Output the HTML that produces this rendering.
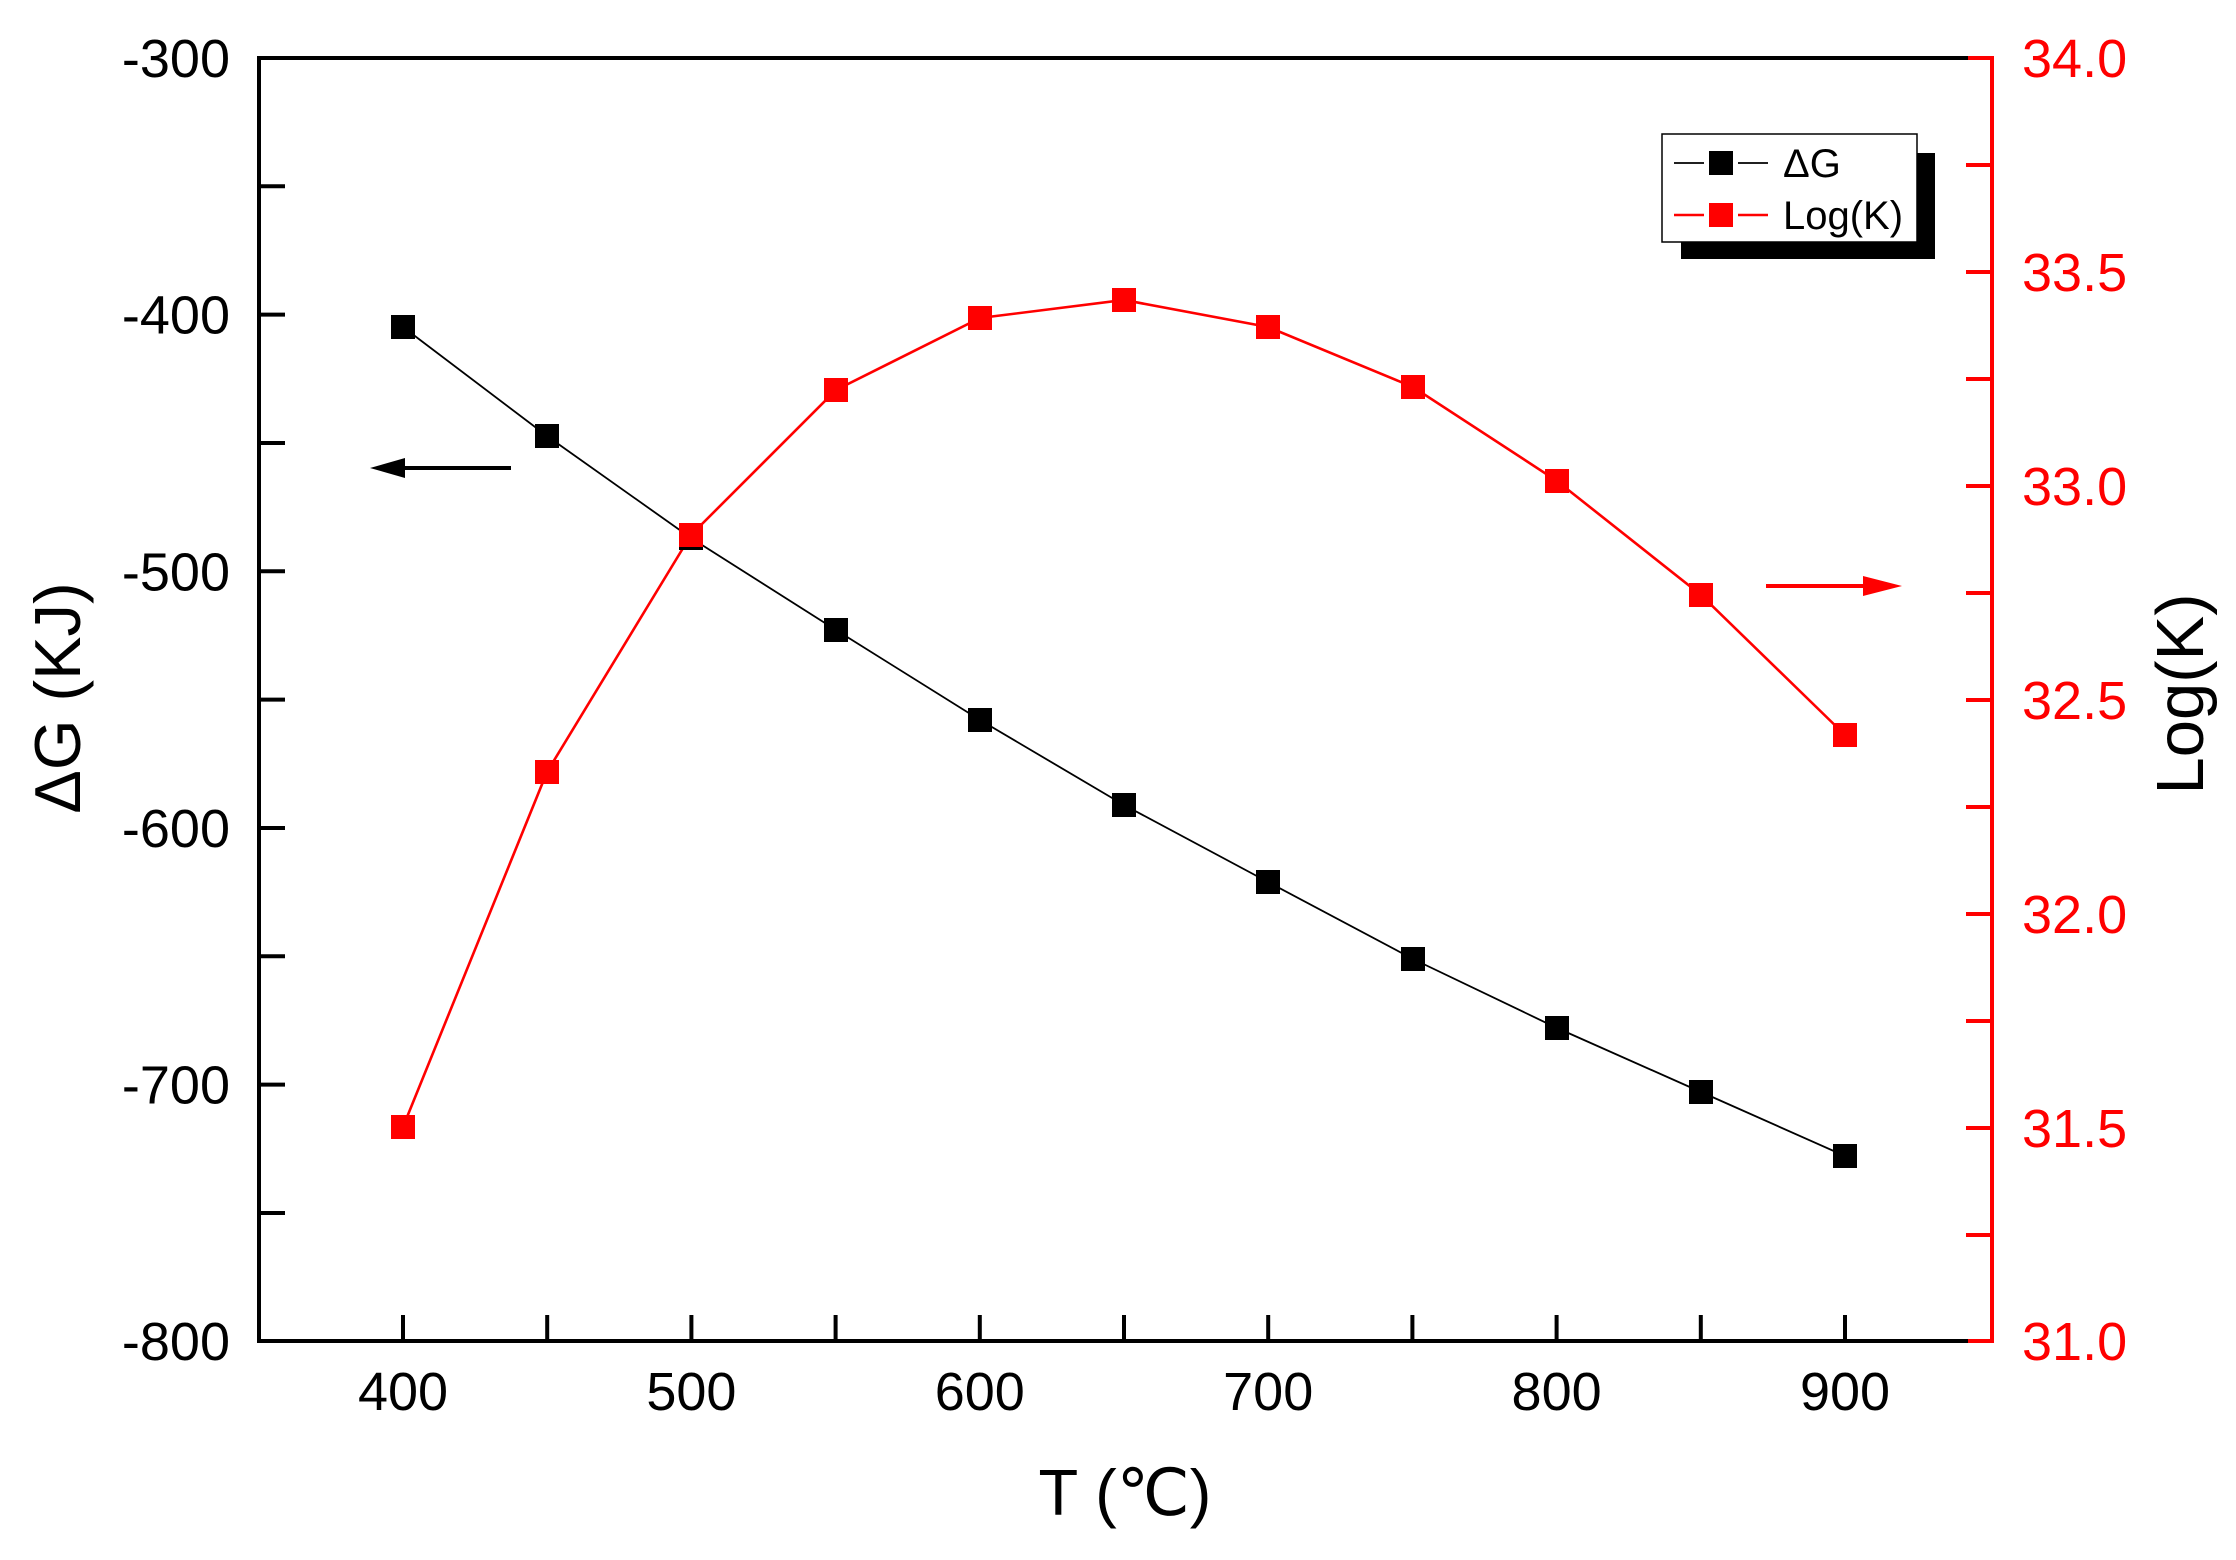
<!DOCTYPE html>
<html><head><meta charset="utf-8"><style>
html,body{margin:0;padding:0;background:#fff;}
svg{display:block;}
text{font-family:"Liberation Sans","DejaVu Sans",sans-serif;}
</style></head><body>
<svg width="2236" height="1560" viewBox="0 0 2236 1560" xmlns="http://www.w3.org/2000/svg">
<rect width="2236" height="1560" fill="#fff"/>
<g stroke="#000" stroke-width="4" fill="none">
<line x1="259" y1="58" x2="1972" y2="58"/>
<line x1="259" y1="1341" x2="1972" y2="1341"/>
<line x1="259" y1="56" x2="259" y2="1343"/>
<path d="M259 58h26M259 186.3h26M259 314.6h26M259 443h26M259 571.3h26M259 699.6h26M259 828h26M259 956.3h26M259 1084.6h26M259 1213h26"/>
<path d="M403 1341v-26M547.2 1341v-26M691.4 1341v-26M835.6 1341v-26M979.8 1341v-26M1124 1341v-26M1268.2 1341v-26M1412.4 1341v-26M1556.6 1341v-26M1700.8 1341v-26M1845 1341v-26"/>
</g>
<g stroke="#f00" stroke-width="4" fill="none">
<line x1="1968" y1="58" x2="1994" y2="58"/>
<line x1="1968" y1="1341" x2="1994" y2="1341"/>
<line x1="1992" y1="56" x2="1992" y2="1343"/>
<path d="M1992 165h-26M1992 272h-26M1992 379h-26M1992 486h-26M1992 593h-26M1992 700h-26M1992 807h-26M1992 914h-26M1992 1021h-26M1992 1128h-26M1992 1235h-26"/>
</g>
<g font-size="54" text-anchor="end" fill="#000">
<text x="230" y="77">-300</text>
<text x="230" y="333.6">-400</text>
<text x="230" y="590.3">-500</text>
<text x="230" y="847">-600</text>
<text x="230" y="1103.6">-700</text>
<text x="230" y="1360">-800</text>
</g>
<g font-size="54" text-anchor="middle" fill="#000">
<text x="403" y="1410">400</text>
<text x="691.4" y="1410">500</text>
<text x="979.8" y="1410">600</text>
<text x="1268.2" y="1410">700</text>
<text x="1556.6" y="1410">800</text>
<text x="1845" y="1410">900</text>
</g>
<g font-size="54" fill="#f00">
<text x="2022" y="77">34.0</text>
<text x="2022" y="291">33.5</text>
<text x="2022" y="505">33.0</text>
<text x="2022" y="719">32.5</text>
<text x="2022" y="933">32.0</text>
<text x="2022" y="1147">31.5</text>
<text x="2022" y="1360">31.0</text>
</g>
<text x="1125" y="1515" font-size="65" text-anchor="middle">T (℃)</text>
<text transform="translate(80,698) rotate(-90)" font-size="65" text-anchor="middle">ΔG (KJ)</text>
<text transform="translate(2203,694) rotate(-90)" font-size="67" text-anchor="middle">Log(K)</text>
<polyline fill="none" stroke="#000" stroke-width="1.8" points="403,327 547,436 691,538 836,630 980,720 1124,805 1268,882 1413,959 1557,1028 1701,1092 1845,1156"/>
<polyline fill="none" stroke="#f00" stroke-width="2.6" points="403,1127 547,772 691,535 836,390 980,318 1124,300 1268,327 1413,387 1557,481 1701,595 1845,735"/>
<g fill="#000">
<rect x="391" y="315" width="24" height="24"/><rect x="535" y="424" width="24" height="24"/><rect x="679" y="526" width="24" height="24"/><rect x="824" y="618" width="24" height="24"/><rect x="968" y="708" width="24" height="24"/><rect x="1112" y="793" width="24" height="24"/><rect x="1256" y="870" width="24" height="24"/><rect x="1401" y="947" width="24" height="24"/><rect x="1545" y="1016" width="24" height="24"/><rect x="1689" y="1080" width="24" height="24"/><rect x="1833" y="1144" width="24" height="24"/>
</g>
<g fill="#f00">
<rect x="391" y="1115" width="24" height="24"/><rect x="535" y="760" width="24" height="24"/><rect x="679" y="523" width="24" height="24"/><rect x="824" y="378" width="24" height="24"/><rect x="968" y="306" width="24" height="24"/><rect x="1112" y="288" width="24" height="24"/><rect x="1256" y="315" width="24" height="24"/><rect x="1401" y="375" width="24" height="24"/><rect x="1545" y="469" width="24" height="24"/><rect x="1689" y="583" width="24" height="24"/><rect x="1833" y="723" width="24" height="24"/>
</g>
<line x1="405" y1="468" x2="511" y2="468" stroke="#000" stroke-width="4"/>
<polygon points="370,468 405,458 405,478" fill="#000"/>
<line x1="1766" y1="586" x2="1866" y2="586" stroke="#f00" stroke-width="4"/>
<polygon points="1902,586 1863,576 1863,596" fill="#f00"/>
<rect x="1681" y="153" width="254" height="106" fill="#000"/>
<rect x="1662" y="134" width="255" height="108" fill="#fff" stroke="#000" stroke-width="1.5"/>
<path d="M1674 163h30M1738 163h30" stroke="#000" stroke-width="1.8"/>
<rect x="1709" y="151" width="24" height="24" fill="#000"/>
<path d="M1674 215h30M1738 215h30" stroke="#f00" stroke-width="2.6"/>
<rect x="1709" y="203" width="24" height="24" fill="#f00"/>
<text x="1783" y="177" font-size="40">ΔG</text>
<text x="1783" y="229" font-size="40">Log(K)</text>
</svg>
</body></html>
